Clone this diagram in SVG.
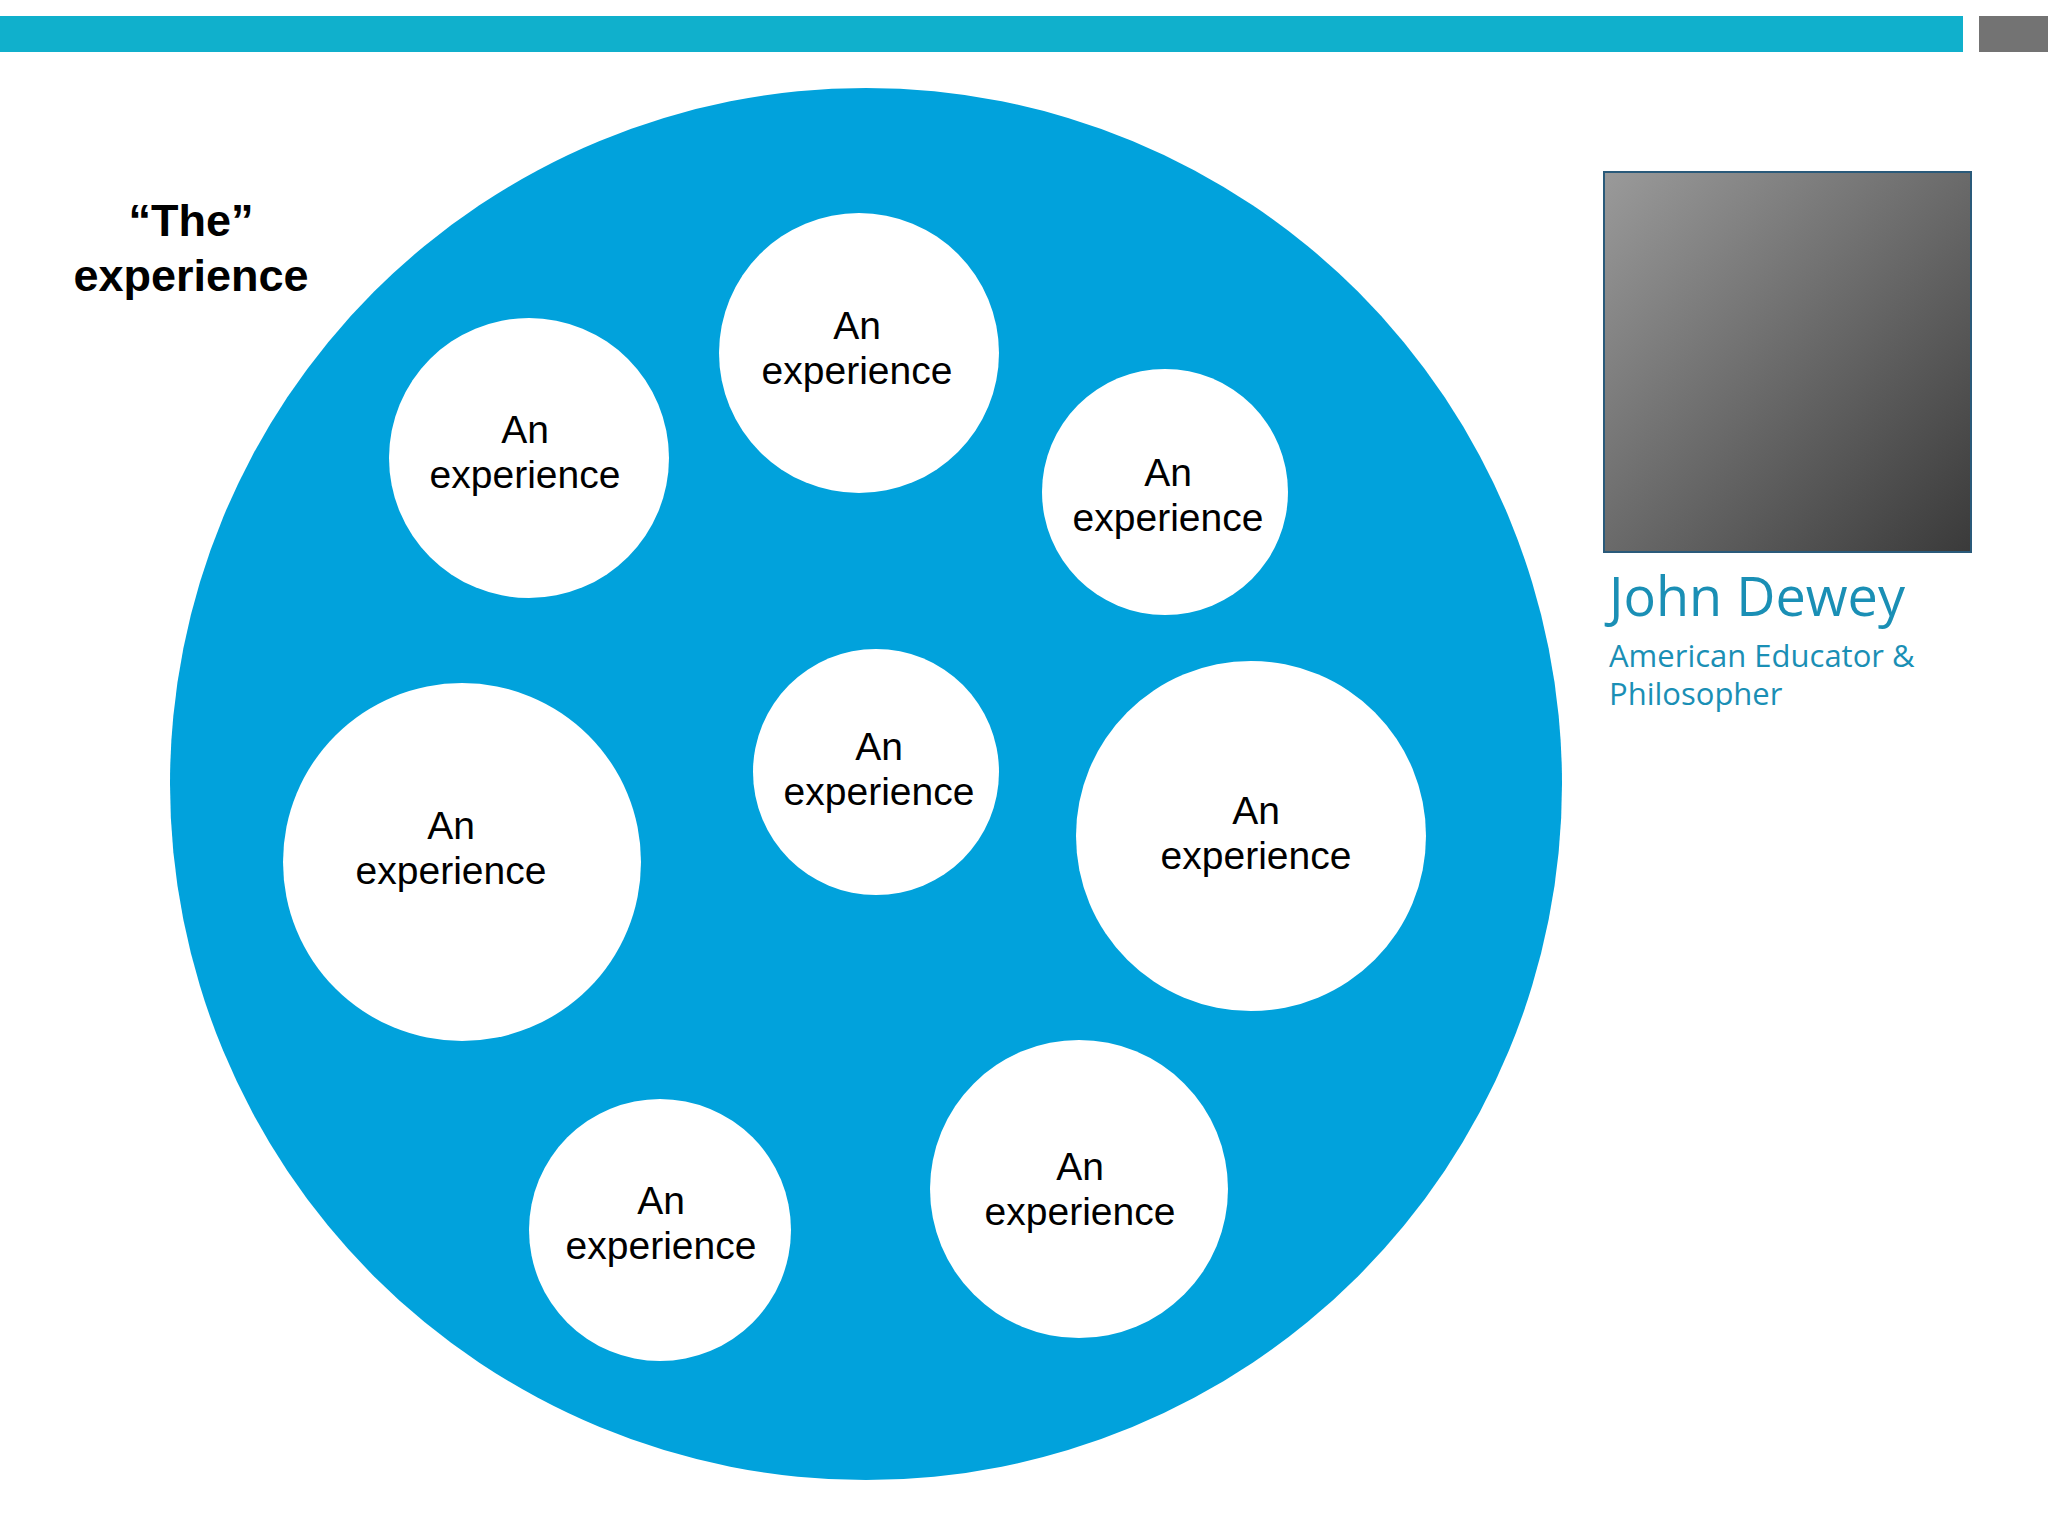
<svg xmlns="http://www.w3.org/2000/svg" width="2048" height="1536" viewBox="0 0 2048 1536">
<style>
.c{fill:#fff}
.t{font-family:"Liberation Sans",Arial,sans-serif;font-size:39px;fill:#000;text-anchor:middle}
.s{font-family:"Open Sans",sans-serif;font-size:31px;fill:#1a8fb5}
</style>
<defs><linearGradient id="g" x1="0" y1="0" x2="1" y2="1"><stop offset="0" stop-color="#9a9a9a"/><stop offset="0.5" stop-color="#6a6a6a"/><stop offset="1" stop-color="#3a3a3a"/></linearGradient></defs>
<rect width="2048" height="1536" fill="#fff"/>
<rect x="0" y="16" width="1963" height="36" fill="#10b0cc"/>
<rect x="1979" y="16" width="69" height="36" fill="#737373"/>
<g id="the-experience">
<circle cx="866" cy="784" r="696" fill="#01a2dc"/>
<text x="191" y="236" style="font-family:'Liberation Sans',Arial,sans-serif;font-size:45px;font-weight:bold;text-anchor:middle">“The”</text>
<text x="191" y="291" style="font-family:'Liberation Sans',Arial,sans-serif;font-size:45px;font-weight:bold;text-anchor:middle">experience</text>
</g>
<g id="n1"><circle class="c" cx="859" cy="353" r="140"/><text class="t" x="857" y="339">An</text><text class="t" x="857" y="384">experience</text></g>
<g id="n2"><circle class="c" cx="529" cy="458" r="140"/><text class="t" x="525" y="443">An</text><text class="t" x="525" y="488">experience</text></g>
<g id="n3"><circle class="c" cx="1165" cy="492" r="123"/><text class="t" x="1168" y="486">An</text><text class="t" x="1168" y="531">experience</text></g>
<g id="n4"><circle class="c" cx="462" cy="862" r="179"/><text class="t" x="451" y="839">An</text><text class="t" x="451" y="884">experience</text></g>
<g id="n5"><circle class="c" cx="876" cy="772" r="123"/><text class="t" x="879" y="760">An</text><text class="t" x="879" y="805">experience</text></g>
<g id="n6"><circle class="c" cx="1251" cy="836" r="175"/><text class="t" x="1256" y="824">An</text><text class="t" x="1256" y="869">experience</text></g>
<g id="n7"><circle class="c" cx="660" cy="1230" r="131"/><text class="t" x="661" y="1214">An</text><text class="t" x="661" y="1259">experience</text></g>
<g id="n8"><circle class="c" cx="1079" cy="1189" r="149"/><text class="t" x="1080" y="1180">An</text><text class="t" x="1080" y="1225">experience</text></g>
<g id="portrait">
<rect x="1604" y="172" width="367" height="380" fill="url(#g)" stroke="#2a5a7a" stroke-width="2"/>
<text x="1609" y="616" style="font-family:'Open Sans',sans-serif;font-size:54px;fill:#1a8fb5">John Dewey</text>
<text class="s" x="1609" y="667">American Educator &amp;</text>
<text class="s" x="1609" y="705">Philosopher</text>
</g>
<g id="connectors"/>
</svg>
